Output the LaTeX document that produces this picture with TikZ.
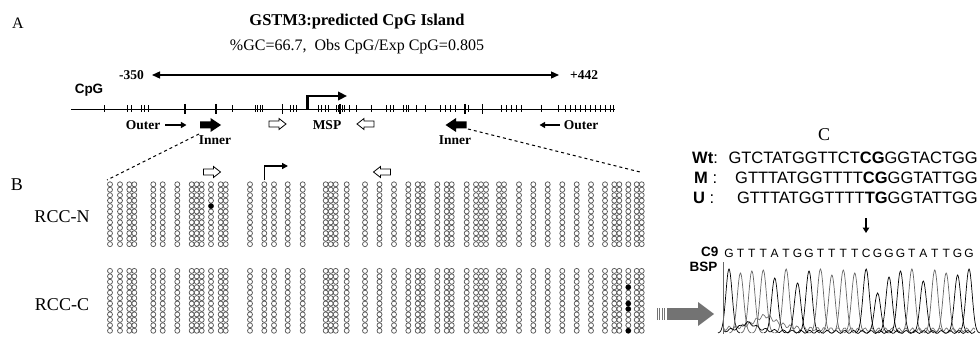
\documentclass[tikz,border=0pt]{standalone}
\usepackage{fontspec}
\setmainfont{Liberation Serif}
\newfontfamily\arial{Liberation Sans}
\usetikzlibrary{arrows.meta}

\colorlet{siteRim}{black!65}
\colorlet{bspArr} {black!55}
\def\siteX{110,120,129.3,134.3,153.3,162.7,177.3,191.7,196.7,201.7,211,220.7,225.7,250,264.3,274,287.7,302.7,325.7,330.7,335.7,346.7,365,379.5,394,408.3,417.7,422.7,437.3,446.7,451.7,466.7,476,481,486,499,504,519,533.3,547.7,562.3,576.7,591,605,614.3,619.3,628.3,636.7,641.7}

\tikzset{
  lbl/.style={font=\bfseries\fontsize{13.5}{15}\selectfont, inner sep=0pt},
  seqtxt/.style={font=\arial\fontsize{16.5}{18}\selectfont, inner sep=0pt},
  nucl/.style={font=\arial\fontsize{12}{13}\selectfont, inner sep=0pt},
  site/.style={draw=siteRim, line width=0.75pt},
  primer/.style={line width=1.6pt, -{Triangle[length=5.5pt,width=6pt]}},
  openarr/.pic={\draw[line width=0.8pt, fill=white] (-8.5,-3)--(1.5,-3)--(1.5,-5.5)--(8.5,0)--(1.5,5.5)--(1.5,3)--(-8.5,3)--cycle;},
  fillarr/.pic={\fill (-10.5,-3.5)--(0,-3.5)--(0,-7)--(10.5,0)--(0,7)--(0,3.5)--(-10.5,3.5)--cycle;},
}

\begin{document}
\begin{tikzpicture}[x=1pt, y=-1pt]
        \useasboundingbox (0,0) rectangle (980,342);
        % panel A
        \node[font=\fontsize{16}{18}\selectfont] (pA) at (18,23) {A};
        \node[font=\bfseries\fontsize{16.5}{18}\selectfont] (title) at (357,22) {GSTM3:predicted CpG Island};
        \node[font=\fontsize{16}{18}\selectfont] (gc) at (357,47) {\%GC=66.7,~~Obs CpG/Exp CpG=0.805};
        \coordinate (isL) at (152,75);
        \coordinate (isR) at (559,75);
        \draw[line width=1.3pt, {Triangle[length=8pt,width=7pt]}-{Triangle[length=8pt,width=7pt]}] (isL)--(isR);
        \node[lbl, anchor=east] (m350) at (144,75) {-350};
        \node[lbl, anchor=west] (p442) at (570,75) {+442};
        \node[font=\arial\bfseries\fontsize{13.5}{15}\selectfont] (cpg) at (89,90) {CpG};
        \coordinate (lnL) at (71,109);
        \coordinate (lnR) at (615,109);
        \draw[line width=0.7pt] (lnL)--(lnR);
        \foreach \t in {104.3,127.7,131,141.7,144.5,148.3,232,255,257.5,260,262.7,290,293.3,296.7,318.3,321.5,325,328.3,336,338.3,342,344,349.3,356.7,371.7,386.7,390,393.3,403.3,406,408.3,416.7,425,440,445,450,455,468.3,501.7,506.7,511.7,516.7,521.7,541.7,558.3,565,570,575,580,585,590,595,600,605,610,613.3}
          \draw[line width=0.7pt] (\t,105.5)--(\t,112.5);
        \foreach \t in {185,216,282.7,340,465,482.7}
          \draw[line width=1.5pt] (\t,104)--(\t,114);
        \draw[line width=2.4pt, -{Triangle[length=9pt,width=8.5pt]}] (307.3,110)--(307.3,96)--(347,96);
        \node[lbl] (outL) at (143,125) {Outer};
        \draw[primer] ([xshift=5pt]outL.east) -- ++(21,0);
        \pic at (210.5,125) {fillarr};
        \node[lbl] (innL) at (215,140) {Inner};
        \pic at (277.5,124) {openarr};
        \node[lbl] (msp) at (327,125) {MSP};
        \pic[rotate=180] at (365.5,124) {openarr};
        \pic[rotate=180] at (456,125) {fillarr};
        \node[lbl] (innR) at (455,140) {Inner};
        \node[lbl] (outR) at (581,125) {Outer};
        \draw[primer] ([xshift=-4pt]outR.west) -- ++(-20,0);
        \coordinate (blkNW) at (107,180);
        \coordinate (blkNE) at (640,172);
        \draw[dashed, line width=1pt] (199,134) -- (blkNW);
        \draw[dashed, line width=1pt] (468,129) -- (blkNE);

        % panel B
        \node[font=\fontsize{18}{20}\selectfont] (pB) at (17,185) {B};
        \node[font=\fontsize{18}{20}\selectfont] (rccN) at (62,217) {RCC-N};
        \node[font=\fontsize{18}{20}\selectfont] (rccC) at (62,305) {RCC-C};
        \foreach \cx in \siteX {
          \foreach \r in {0,...,11} {
            \draw[site] (\cx,184.3+\r*5.44) circle (2.5);
            \draw[site] (\cx,270.9+\r*5.44) circle (2.5);
          }
        }
        \fill (211,184.3+4*5.44) circle (2.7);
        \foreach \r in {3,6,7,11}
          \fill (628.3,270.9+\r*5.44) circle (2.7);
        \draw[line width=1.5pt, -{Triangle[length=6pt,width=6pt]}] (264.3,180)--(264.3,166)--(288,166);
        \pic at (212,172) {openarr};
        \pic[rotate=180] at (382,172) {openarr};

        % panel C
        \node[font=\fontsize{18}{20}\selectfont] (pC) at (824,135) {C};
        \node[seqtxt, anchor=west] (wtL) at (692,158) {\textbf{Wt}:};
        \node[seqtxt, anchor=east] (wt) at (978,158) {GTCTATGGTTCT\textbf{CG}GGTACTGG};
        \node[seqtxt, anchor=west] (mL) at (694,178) {\textbf{M} :};
        \node[seqtxt, anchor=east] (m) at (978,178) {GTTTATGGTTTT\textbf{CG}GGTATTGG};
        \node[seqtxt, anchor=west] (uL) at (693,198) {\textbf{U} :};
        \node[seqtxt, anchor=east] (u) at (978,198) {GTTTATGGTTTT\textbf{TG}GGTATTGG};
        \draw[line width=1.6pt, -{Triangle[length=5.5pt,width=6.5pt]}] (866,218)--(866,233);
        \node[font=\arial\bfseries\fontsize{13.5}{15}\selectfont, anchor=east] (c9) at (722,252) {C9};
        \node[font=\arial\bfseries\fontsize{13.5}{15}\selectfont, anchor=east] (bsp) at (721,267) {BSP};
        \foreach \nt/\pk/\col [count=\i from 0] in {G/64/black,T/60/black!60,T/62/black!60,T/63/black!60,A/55/black,T/64/black!60,G/50/black,G/62/black,T/64/black!60,T/58/black!60,T/63/black!60,T/60/black!60,C/64/black,G/40/black,G/56/black,G/62/black,T/64/black!60,A/52/black,T/63/black!60,T/60/black!60,G/58/black,G/64/black} {
          \node[nucl] (n\i) at ({729+\i*11.43},253) {\nt};
          \draw[\col, line width=0.7pt] plot[domain=-11:11, samples=23, smooth] ({729+\i*11.43+\x}, {333-\pk*exp(-\x*\x/20)});
        }
        \draw[black!60, line width=0.5pt] (723,262)--(723,334);
        \draw[black!55, line width=0.7pt] plot[domain=724:975, samples=150, smooth] (\x, {330+2*sin((\x-724)*53)-14/(1+((\x-765)/14)^2)});
        \draw[line width=0.7pt] plot[domain=724:975, samples=150, smooth] (\x, {332+1.5*sin((\x-724)*41)-9/(1+((\x-748)/10)^2)});
        \foreach \sx in {657,659.5,662,664.5,667}
          \draw[bspArr, line width=0.8pt] (\sx,308)--(\sx,320);
        \fill[bspArr] (668,308) rectangle (698,320);
        \fill[bspArr] (698,302)--(714,314)--(698,326)--cycle;
      \end{tikzpicture}
\end{document}
